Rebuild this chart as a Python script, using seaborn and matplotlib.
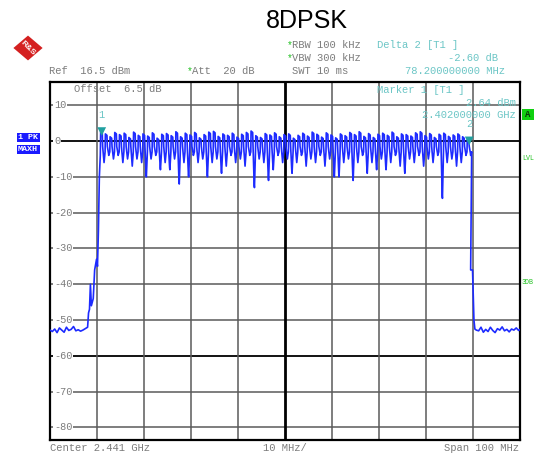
import numpy as np
import pandas as pd
import matplotlib
matplotlib.use("Agg")
import matplotlib.pyplot as plt
import seaborn as sns
from matplotlib.patches import RegularPolygon, Rectangle

sns.set_style("white")
plt.rcParams['font.family'] = ['Liberation Mono', 'DejaVu Sans Mono']

# ---------------- data (MHz, dBm) ----------------
left_noise_freq = [2391.0, 2391.5, 2392.0, 2392.5, 2393.0, 2393.5, 2394.0, 2394.5,
                   2395.0, 2395.5, 2396.0, 2396.5, 2397.0, 2397.5, 2398.0, 2398.5,
                   2399.0, 2399.2, 2399.4, 2399.6, 2399.8, 2400.2, 2400.5, 2400.9,
                   2401.1, 2401.3, 2401.5, 2401.7]
left_noise_level = [-52.8, -53.2, -52.5, -53.5, -52.2, -52.8, -53.4, -52.0,
                    -52.9, -52.6, -51.8, -53.0, -52.7, -53.1, -52.8, -52.4,
                    -52.0, -48.0, -47.0, -40.0, -46.0, -44.0, -36.0, -33.0,
                    -35.0, -25.0, -10.0, -4.0]

channel_freq = [2402 + k for k in range(79)]
channel_peak = [2.64, 2.0, 1.2, 2.4, 1.8, 2.2, 1.0, 2.5, 1.6, 2.0,
                1.4, 2.3, 0.8, 1.9, 2.1, 1.5, 2.6, 1.2, 2.2, 1.7,
                2.4, 0.9, 1.8, 2.5, 2.7, 1.3, 2.0, 1.6, 2.2, 1.1,
                1.9, 2.4, 2.8, 1.5, 1.0, 2.1, 1.7, 2.3, 1.2, 1.8,
                2.0, 0.8, 1.6, 2.2, 1.4, 2.5, 1.9, 1.1, 2.3, 1.7,
                0.9, 2.0, 1.5, 2.4, 1.8, 2.6, 1.3, 2.1, 1.0, 1.9,
                2.2, 1.6, 2.5, 1.2, 2.0, 1.8, 1.4, 2.3, 2.6, 1.5,
                2.1, 1.0, 1.9, 2.2, 1.3, 1.7, 2.0, 1.2, 0.4]
channel_dip = [-6, -4, -5, -4, -6, -5, -7, -5, -6, -10,
               -5, -4, -8, -6, -8, -5, -12, -6, -10, -4,
               -6, -5, -10, -6, -5, -9, -7, -4, -6, -5,
               -7, -4, -13, -5, -6, -11, -8, -4, -6, -5,
               -9, -6, -4, -7, -5, -6, -4, -7, -5, -10,
               -10, -6, -5, -11, -6, -4, -9, -6, -8, -5,
               -8, -6, -4, -7, -9, -5, -6, -4, -7, -5,
               -6, -4, -16, -6, -5, -7, -6, -4, -4]

right_noise_freq = [2480.5, 2480.9, 2481.2, 2481.4, 2481.7, 2482.2, 2482.7, 2483.2,
                    2483.7, 2484.2, 2484.7, 2485.2, 2485.7, 2486.2, 2486.7, 2487.2,
                    2487.7, 2488.2, 2488.7, 2489.2, 2489.7, 2490.2, 2490.7, 2491.0]
right_noise_level = [-36.0, -36.0, -50.0, -52.5, -52.8, -53.0, -52.0, -53.4,
                     -52.6, -53.2, -52.0, -52.9, -53.5, -52.4, -52.8, -51.9,
                     -53.0, -52.6, -53.3, -52.5, -52.8, -52.2, -52.9, -52.6]

marker_freq = [2402.0, 2480.2]
marker_level = [2.64, 0.04]
marker_label = ["1", "2"]

ytick_vals = [10, 0, -10, -20, -30, -40, -50, -60, -70, -80]
xgrid_vals = [2401, 2411, 2421, 2431, 2441, 2451, 2461, 2471, 2481]

# build comb trace from per-channel peak / dip values (max-hold teeth)
cf, cl = [], []
for f, p, d in zip(channel_freq, channel_peak, channel_dip):
    cf += [f - 0.22, f + 0.12, f + 0.2, f + 0.45, f + 0.5, f + 0.72]
    cl += [p, p - 0.4, -1.5, d + 0.6, d, -3.0]
trace = pd.DataFrame({
    "freq": left_noise_freq + cf + right_noise_freq,
    "level": left_noise_level + cl + right_noise_level,
})

# ---------------- figure ----------------
W, H = 534, 454
fig = plt.figure(figsize=(W / 100, H / 100), dpi=100)
ax = fig.add_axes([50 / W, 14 / H, 470 / W, 358 / H])
ax.set_xlim(2391, 2491)
ax.set_ylim(-83.5, 16.5)

for v in ytick_vals:
    black = v in (0, -60)
    ax.axhline(v, color="black" if black else "#5a5a5a", lw=1.3 if black else 1.1, zorder=1)
for v in xgrid_vals:
    center = v == 2441
    ax.axvline(v, color="black" if center else "#5a5a5a", lw=2.0 if center else 1.1, zorder=1)

sns.lineplot(data=trace, x="freq", y="level", sort=False, estimator=None,
             color="#1d2bff", lw=1.2, ax=ax, zorder=3)

ax.set_xticks([])
ax.set_yticks([])
ax.set_xlabel("")
ax.set_ylabel("")
for s in ax.spines.values():
    s.set_color("black")
    s.set_linewidth(1.6)

gray = "#7c7c7c"
cyan = "#6cc6c6"
ylab_tr = ax.get_yaxis_transform()
for v in ytick_vals:
    ax.text(0.009, v, str(v), transform=ylab_tr,
            ha="left", va="center", fontsize=7.4, color=gray, zorder=4,
            bbox=dict(facecolor="white", edgecolor="none", pad=0.6))

# markers
ax.scatter(marker_freq, marker_level, marker="v", s=40, color="#20a0a0", zorder=5,
           edgecolor="none")
for f, l, t in zip(marker_freq, marker_level, marker_label):
    ax.annotate(t, (f, l), xytext=(0, 12), textcoords="offset points",
                ha="center", va="center", fontsize=7.5, color=cyan)

# ---------------- texts ----------------
def ft(x, y, s, **kw):
    kw.setdefault("fontsize", 7.6)
    kw.setdefault("color", gray)
    kw.setdefault("va", "center")
    fig.text(x / W, 1 - y / H, s, **kw)

ft(307, 21, "8DPSK", fontsize=18, color="black", ha="center", family="Liberation Sans")
ft(287, 45, "*", color="#20c020", fontsize=7)
ft(292, 45, "RBW 100 kHz")
ft(287, 58, "*", color="#20c020", fontsize=7)
ft(292, 58, "VBW 300 kHz")
ft(292, 71, "SWT 10 ms")
ft(49, 71, "Ref  16.5 dBm")
ft(187, 71, "*", color="#20c020", fontsize=7)
ft(192, 71, "Att  20 dB")
ft(377, 45, "Delta 2 [T1 ]", color=cyan)
ft(498, 58, "-2.60 dB", color=cyan, ha="right")
ft(505, 71, "78.200000000 MHz", color=cyan, ha="right")
ft(74, 89, "Offset  6.5 dB")
ft(377, 90, "Marker 1 [T1 ]", color=cyan)
ft(516, 103, "2.64 dBm", color=cyan, ha="right")
ft(516, 115, "2.402000000 GHz", color=cyan, ha="right")
ft(50, 448, "Center 2.441 GHz")
ft(285, 448, "10 MHz/", ha="center")
ft(519, 448, "Span 100 MHz", ha="right")

# left side boxes
for y0, s in [(133, "1 PK"), (145, "MAXH")]:
    fig.add_artist(Rectangle((17 / W, 1 - (y0 + 9) / H), 23 / W, 9 / H,
                             transform=fig.transFigure, facecolor="#1a1aff", edgecolor="none"))
    ft(18, y0 + 4.5, s, color="white", fontsize=6, weight="bold")

# right side annotations
fig.add_artist(Rectangle((522 / W, 1 - 120 / H), 12 / W, 11 / H,
                         transform=fig.transFigure, facecolor="#10d010", edgecolor="none"))
ft(528, 114.5, "A", color="#0a3a0a", fontsize=6.5, ha="center", weight="bold")
ft(522, 159, "LVL", color="#20c020", fontsize=4.8)
ft(522, 283, "3DB", color="#20c020", fontsize=4.8)

# R&S logo
fig.add_artist(RegularPolygon((28 / W, 1 - 48 / H), 4, radius=13 / W, orientation=0,
                              transform=fig.transFigure, facecolor="#d42020",
                              edgecolor="#d42020", lw=1.5))
ft(28, 48, "R&S", color="white", fontsize=6, ha="center", weight="bold",
   family="Liberation Sans", rotation=-45)

fig.savefig("out.png", dpi=100)
